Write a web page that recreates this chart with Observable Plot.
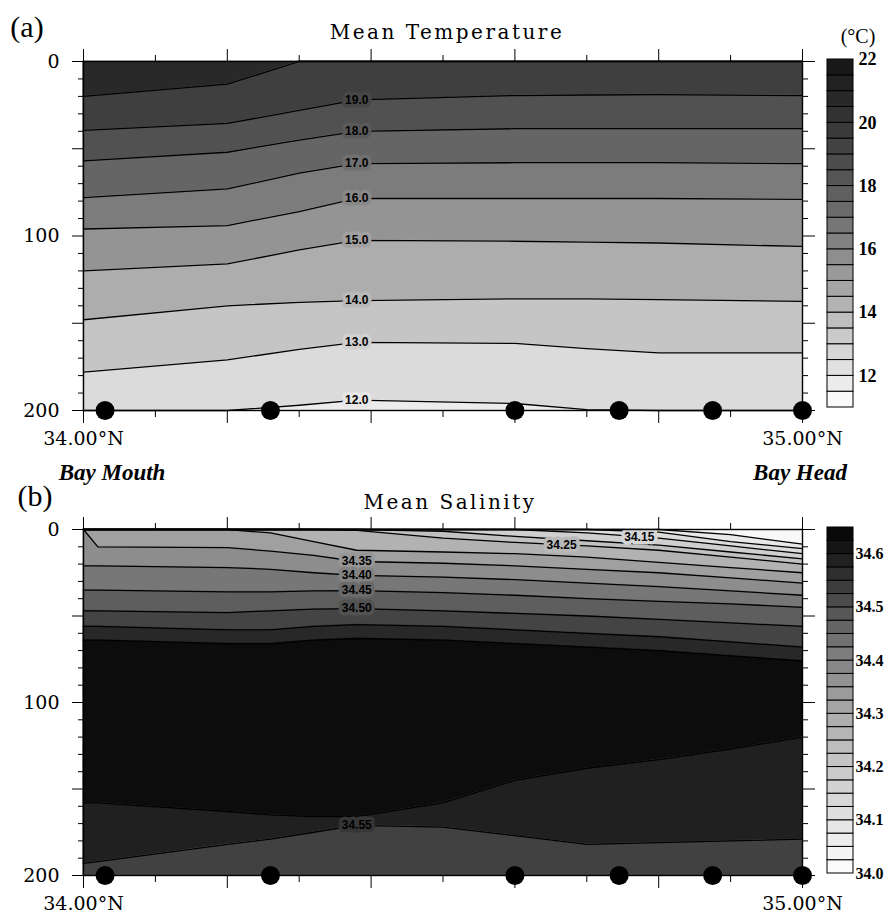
<!DOCTYPE html>
<html><head><meta charset="utf-8">
<script src="https://cdn.jsdelivr.net/npm/d3@7"></script>
<script src="https://cdn.jsdelivr.net/npm/@observablehq/plot@0.6"></script>
<style>
body{margin:0;background:#fff;}
#root{position:relative;width:890px;height:918px;overflow:hidden;background:#fff;}
.t{position:absolute;transform:translate(-50%,-50%);white-space:nowrap;line-height:1;color:#000;}
</style></head><body><div id="root"></div>
<script>
// ---------- DATA ----------
// station positions (latitude, °N)
const stations = [34.03, 34.26, 34.60, 34.745, 34.875, 35.0];
const bottomDepth = 200;

// (a) Mean Temperature: depth (m) of each isotherm at these latitudes
const tempLats = [34.0, 34.2, 34.3, 34.38, 34.6, 34.7, 34.8, 35.0];
const t20 = [20, 13, 0, 0, 0, 0, 0, 0];
const t19 = [39.5, 35.5, 28, 22, 19.5, 19.2, 19, 19.5];
const t18 = [57, 52, 45, 40, 38.5, 38.5, 38.5, 38.5];
const t17 = [78, 73, 64, 58.5, 58, 58, 58, 58.5];
const t16 = [96, 94, 86, 78.5, 78.5, 78.5, 78.5, 79];
const t15 = [120, 116, 108, 102.5, 103, 103.5, 104, 106];
const t14 = [148, 140, 138, 137, 136, 136, 136.5, 137.5];
const t13 = [178, 171, 165, 161, 161.5, 164.5, 167, 167];
const t12 = [200, 200, 197, 194, 196, 199.5, 200, 200];
const tempLevels = [20, 19, 18, 17, 16, 15, 14, 13, 12];
const tempBandValues = [20.75, 19.5, 18.5, 17.5, 16.5, 15.5, 14.5, 13.5, 12.5, 11.75];
const tempLabelLat = 34.38;
const tempLabelTexts = ["19.0", "18.0", "17.0", "16.0", "15.0", "14.0", "13.0", "12.0"];

// (b) Mean Salinity: depth (m) of each isohaline at these latitudes
const salLats = [34.0, 34.02, 34.2, 34.26, 34.32, 34.38, 34.5, 34.6, 34.7, 34.8, 34.9, 35.0];
const s05 = [0, 0, 0, 0, 0, 0, 0, 0, 0, 0, 3, 8.5];
const s10 = [0, 0, 0, 0, 0, 0, 0, 0, 0, 1.5, 7, 11];
const s15 = [0, 0, 0, 0, 0, 0, 0, 0, 2, 5, 9.5, 14];
const s20 = [0, 0, 0, 0, 0, 0, 1, 4, 6.5, 9, 13, 17];
const s25 = [0, 0, 0, 0, 0, 0.5, 5, 7.5, 9.5, 12, 16, 20];
const s30 = [0, 0, 0, 2, 7, 12, 13, 14, 16, 19, 22, 25];
const s35 = [0, 10, 10.5, 12.5, 15, 18.5, 19.5, 21, 23, 25, 28, 31];
const s40 = [21, 21, 22, 23, 25, 26.5, 27.5, 29, 31, 33, 35.5, 38];
const s45 = [35, 35, 36, 36, 35.5, 35.3, 36.5, 38, 40, 41.5, 43, 45];
const s50 = [47, 47, 48, 47, 46, 45.7, 47, 48.5, 50, 52, 54, 56];
const s55u = [56, 56, 58, 58, 56, 55, 56, 58, 60, 62, 65, 68];
const s60u = [64, 64, 66, 66, 64, 63, 64, 66, 68, 70, 73, 76];
const s60l = [158, 158, 163, 165, 166, 166, 158, 145, 138, 133, 127, 120];
const s55l = [193, 192, 182, 179, 175, 171, 172, 177, 182, 181, 180, 179];
const salBandValues = [34.025, 34.075, 34.125, 34.175, 34.225, 34.275, 34.325, 34.375, 34.425, 34.475, 34.525, 34.575, 34.63, 34.59, 34.53];
const salLabels = [
  {lat: 34.38, line: "s35", text: "34.35"},
  {lat: 34.38, line: "s40", text: "34.40"},
  {lat: 34.38, line: "s45", text: "34.45"},
  {lat: 34.38, line: "s50", text: "34.50"},
  {lat: 34.38, line: "s55l", text: "34.55"},
  {lat: 34.665, depth: 9, text: "34.25", value: 34.25},
  {lat: 34.773, depth: 4.5, text: "34.15", value: 34.15}
];

// legends
const tempLegendEdges = [11,11.5,12,12.5,13,13.5,14,14.5,15,15.5,16,16.5,17,17.5,18,18.5,19,19.5,20,20.5,21,21.5,22];
const tempLegendTicks = [12, 14, 16, 18, 20, 22];
const salLegendEdges = [34.0,34.025,34.05,34.075,34.1,34.125,34.15,34.175,34.2,34.225,34.25,34.275,34.3,34.325,34.35,34.375,34.4,34.425,34.45,34.475,34.5,34.525,34.55,34.575,34.6,34.625,34.65];
const salLegendTicks = [34.0, 34.1, 34.2, 34.3, 34.4, 34.5, 34.6];

// axis ticks
const latMinorTicks = [34.1, 34.3, 34.5, 34.7, 34.9];
const latMajorTicks = [34.2, 34.4, 34.6, 34.8];
const latLabelTicks = [34.0, 35.0];
const depthMinorTicks = [10,20,30,40,60,70,80,90,110,120,130,140,160,170,180,190];
const depthMajorTicks = [0, 50, 100, 150, 200];

const tempColor = {type: "linear", domain: [11, 12, 13, 14, 15, 16, 17, 18, 19, 20, 22],
  range: ["#ffffff","#e6e6e6","#d0d0d0","#b9b9b9","#a0a0a0","#888888","#707070","#5a5a5a","#474747","#363636","#141414"]};
const salColor = {type: "linear", domain: [34.0, 34.1, 34.2, 34.3, 34.4, 34.5, 34.6, 34.65],
  range: ["#ffffff","#e2e2e2","#c8c8c8","#aaaaaa","#838383","#525252","#1a1a1a","#030303"]};

// ---------- BUILD ----------
function bandRows(lats, bounds, values) {
  const rows = [];
  values.forEach((v, i) => lats.forEach((lat, j) => rows.push({band: i, lat, top: bounds[i][j], bottom: bounds[i + 1][j], value: v})));
  return rows;
}
function lineRows(lats, lines) {
  const rows = [];
  lines.forEach(l => lats.forEach((lat, j) => rows.push({name: l.name, lat, depth: l.depths[j]})));
  return rows;
}
function axes() {
  const none = () => "";
  return [
    Plot.axisY({anchor: "left", ticks: depthMinorTicks, tickSize: 5, tickFormat: none, label: null}),
    Plot.axisY({anchor: "left", ticks: depthMajorTicks, tickSize: 11, tickPadding: 13, tickFormat: d => d % 100 === 0 ? String(d) : "", label: null}),
    Plot.axisY({anchor: "right", ticks: depthMinorTicks, tickSize: 5, tickFormat: none, label: null}),
    Plot.axisY({anchor: "right", ticks: depthMajorTicks, tickSize: 12, tickFormat: none, label: null}),
    Plot.axisX({anchor: "top", ticks: latMinorTicks, tickSize: 7, tickFormat: none, label: null}),
    Plot.axisX({anchor: "top", ticks: latMajorTicks.concat(latLabelTicks), tickSize: 13, tickFormat: none, label: null}),
    Plot.axisX({anchor: "bottom", ticks: latMinorTicks, tickSize: 7, tickFormat: none, label: null}),
    Plot.axisX({anchor: "bottom", ticks: latMajorTicks, tickSize: 13, tickFormat: none, label: null}),
    Plot.axisX({anchor: "bottom", ticks: latLabelTicks, tickSize: 13, tickPadding: 8, tickFormat: d => d.toFixed(2) + "°N", label: null})
  ];
}
function panel(o) {
  return Plot.plot({
    width: 890, height: 450, marginLeft: 83, marginRight: 88, marginTop: 61, marginBottom: o.marginBottom,
    x: {domain: [34, 35]},
    y: {domain: [0, bottomDepth], reverse: true},
    color: o.color,
    style: {fontFamily: "DejaVu Serif", fontSize: "19px", background: "transparent", overflow: "visible"},
    marks: [
      Plot.areaY(o.bands, {x: "lat", y1: "top", y2: "bottom", z: "band", fill: "value", stroke: "value", strokeWidth: 0.6, curve: "linear"}),
      Plot.line(o.lines, {x: "lat", y: "depth", z: "name", stroke: "black", strokeWidth: 1.3, curve: "linear"}),
      Plot.text(o.labels, {x: "lat", y: "depth", text: "text", fill: "black", stroke: "value", strokeWidth: 7, paintOrder: "stroke",
        fontFamily: "Liberation Sans", fontWeight: "bold", fontSize: 12}),
      Plot.frame({stroke: "black", strokeWidth: 1.4}),
      ...axes(),
      Plot.dot(stations, {x: d => d, y: () => bottomDepth, r: 9.5, fill: "black", stroke: "none"})
    ]
  });
}
function legend(o) {
  const cells = o.edges.slice(0, -1).map((e, i) => ({y1: e, y2: o.edges[i + 1], v: (e + o.edges[i + 1]) / 2}));
  return Plot.plot({
    width: 70, height: 450, marginLeft: 7, marginRight: 37, marginTop: o.marginTop, marginBottom: o.marginBottom,
    x: {domain: [0, 1], axis: null},
    y: {domain: [o.edges[0], o.edges[o.edges.length - 1]]},
    color: o.color,
    style: {fontFamily: "Liberation Serif", fontSize: o.fontSize, fontWeight: "bold", background: "transparent", overflow: "visible"},
    marks: [
      Plot.rect(cells, {x1: 0, x2: 1, y1: "y1", y2: "y2", fill: "v", stroke: "black", strokeWidth: 1}),
      Plot.axisY({anchor: "right", ticks: o.ticks, tickSize: 0, tickPadding: o.pad, tickFormat: o.fmt, label: null})
    ]
  });
}

const root = document.getElementById("root");
function place(el, top, left) { el.style.position = "absolute"; el.style.top = top + "px"; el.style.left = left + "px"; root.appendChild(el); }
function txt(s, cx, cy, css) { const d = document.createElement("div"); d.className = "t"; d.textContent = s; d.style.left = cx + "px"; d.style.top = cy + "px"; d.style.cssText += css; root.appendChild(d); }

// panel a
const tBounds = [tempLats.map(() => 0), t20, t19, t18, t17, t16, t15, t14, t13, t12, tempLats.map(() => bottomDepth)];
const tLineArrays = [t20, t19, t18, t17, t16, t15, t14, t13, t12];
const tLines = lineRows(tempLats, tLineArrays.map((d, i) => ({name: "t" + tempLevels[i], depths: d})));
const labelIdx = tempLats.indexOf(tempLabelLat);
const tLabels = tempLabelTexts.map((s, i) => ({lat: tempLabelLat, depth: tLineArrays[i + 1][labelIdx], text: s, value: tempLevels[i + 1]}));
place(panel({bands: bandRows(tempLats, tBounds, tempBandValues), lines: tLines, labels: tLabels, color: tempColor, marginBottom: 40}), 0, 0);
place(legend({edges: tempLegendEdges, ticks: tempLegendTicks, fmt: d => String(d), color: tempColor, marginTop: 59, marginBottom: 43, fontSize: "18px", pad: 5}), 0, 820);

// panel b
const salNamed = {s05, s10, s15, s20, s25, s30, s35, s40, s45, s50, s55u, s60u, s60l, s55l};
const salLevel = {s05: 34.05, s10: 34.10, s15: 34.15, s20: 34.20, s25: 34.25, s30: 34.30, s35: 34.35, s40: 34.40, s45: 34.45, s50: 34.50, s55u: 34.55, s60u: 34.60, s60l: 34.60, s55l: 34.55};
const sBounds = [salLats.map(() => 0), ...Object.values(salNamed), salLats.map(() => bottomDepth)];
const sLines = lineRows(salLats, Object.entries(salNamed).map(([name, depths]) => ({name, depths})));
const sLabels = salLabels.map(l => l.line ? {lat: l.lat, depth: salNamed[l.line][salLats.indexOf(l.lat)], text: l.text, value: salLevel[l.line]} : l);
place(panel({bands: bandRows(salLats, sBounds, salBandValues), lines: sLines, labels: sLabels, color: salColor, marginBottom: 43}), 468, 0);
place(legend({edges: salLegendEdges, ticks: salLegendTicks, fmt: d => d.toFixed(1), color: salColor, marginTop: 59, marginBottom: 45, fontSize: "16px", pad: 2}), 468, 820);

// titles and annotations
const serif = "font-family:'Liberation Serif';";
txt("(a)", 27, 27, serif + "font-size:30px;");
txt("Mean Temperature", 447, 32, "font-family:'DejaVu Serif';font-size:20px;letter-spacing:2.5px;");
txt("(°C)", 858, 36, serif + "font-size:20px;");
txt("Bay Mouth", 112, 472, serif + "font-size:23px;font-weight:bold;font-style:italic;");
txt("Bay Head", 800, 472, serif + "font-size:23px;font-weight:bold;font-style:italic;");
txt("(b)", 35, 496, serif + "font-size:30px;");
txt("Mean Salinity", 450, 502, "font-family:'DejaVu Serif';font-size:20px;letter-spacing:2.5px;");
</script>
</body></html>
